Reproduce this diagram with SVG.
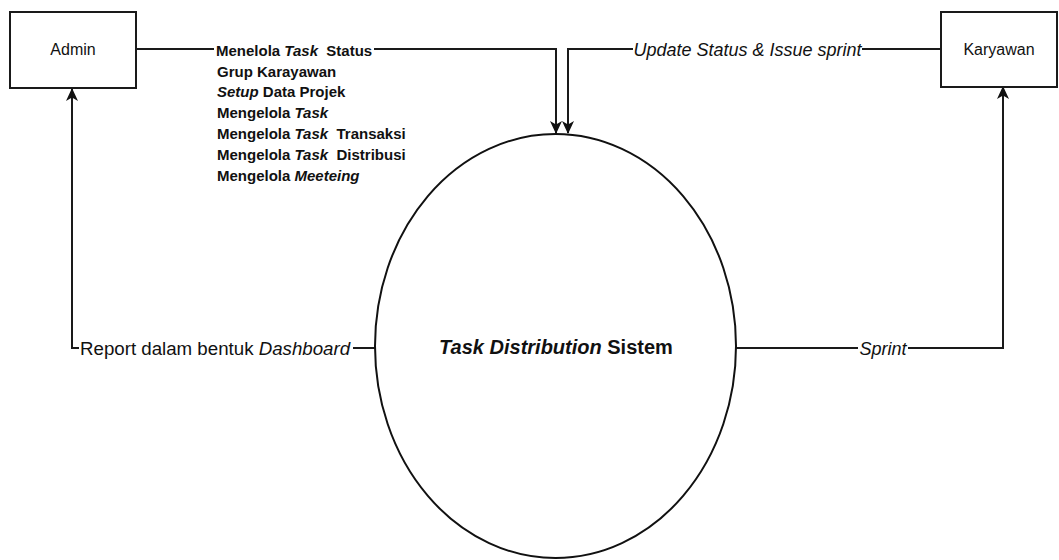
<svg xmlns="http://www.w3.org/2000/svg" width="1059" height="560" viewBox="0 0 1059 560">
  <style>
    .box { fill: #ffffff; stroke: #1a1a1a; stroke-width: 2; }
    .proc { fill: #ffffff; stroke: #111111; stroke-width: 2; }
    .edge { fill: none; stroke: #1a1a1a; stroke-width: 2; }
    .ent { font-family: "Liberation Sans", Arial, sans-serif; font-size: 16px; fill: #111; text-anchor: middle; }
    .lbl { font-family: "Liberation Sans", Arial, sans-serif; font-size: 18px; fill: #111; }
    .list { font-family: "Liberation Sans", Arial, sans-serif; font-size: 15px; font-weight: bold; fill: #111; }
    .title { font-family: "Liberation Sans", Arial, sans-serif; font-size: 20px; font-weight: bold; fill: #111; text-anchor: middle; }
    .it { font-style: italic; }
  </style>
  <defs>
    <marker id="arrow" viewBox="0 0 13 12" refX="12" refY="6" markerWidth="13" markerHeight="12" markerUnits="userSpaceOnUse" orient="auto">
      <path d="M0,0 L13,6 L0,12 L3.5,6 Z" fill="#111"/>
    </marker>
  </defs>
  <rect width="1059" height="560" fill="#ffffff"/>

  <!-- data flows -->
  <g id="connectors">
    <!-- Admin -> system -->
    <path class="edge" d="M136,49 H214"/>
    <path class="edge" d="M374,49 H556 V133" marker-end="url(#arrow)"/>
    <!-- Karyawan -> system -->
    <path class="edge" d="M941,49 H862"/>
    <path class="edge" d="M633,49 H568 V133" marker-end="url(#arrow)"/>
    <!-- system -> Admin -->
    <path class="edge" d="M375,348 H353"/>
    <path class="edge" d="M79,348 H72 V89" marker-end="url(#arrow)"/>
    <!-- system -> Karyawan -->
    <path class="edge" d="M736,348 H858"/>
    <path class="edge" d="M908,348 H1003 V87" marker-end="url(#arrow)"/>

    <g id="flow-labels">
      <text class="list" xml:space="preserve"><tspan x="216" y="55.5">Menelola <tspan class="it">Task</tspan>  Status</tspan></text>
      <text class="list" x="217" y="76.5">Grup Karayawan</text>
      <text class="list" x="217" y="97"><tspan class="it">Setup</tspan> Data Projek</text>
      <text class="list" x="217" y="118">Mengelola <tspan class="it">Task</tspan></text>
      <text class="list" xml:space="preserve" x="217" y="138.5">Mengelola <tspan class="it">Task</tspan>  Transaksi</text>
      <text class="list" xml:space="preserve" x="217" y="159.5">Mengelola <tspan class="it">Task</tspan>  Distribusi</text>
      <text class="list" x="217" y="180.5">Mengelola <tspan class="it">Meeteing</tspan></text>

      <text class="lbl it" x="747.5" y="55.5" text-anchor="middle">Update Status &amp; Issue sprint</text>
      <text class="lbl" x="80" y="354.5" style="font-size:18.7px">Report dalam bentuk <tspan class="it">Dashboard</tspan></text>
      <text class="lbl it" x="883" y="354.5" text-anchor="middle">Sprint</text>
    </g>
  </g>

  <g id="admin">
    <rect class="box" x="10" y="12" width="126" height="76"/>
    <text class="ent" x="73" y="55">Admin</text>
  </g>

  <g id="karyawan">
    <rect class="box" x="941" y="12" width="116" height="75"/>
    <text class="ent" x="999" y="55">Karyawan</text>
  </g>

  <g id="system">
    <ellipse class="proc" cx="555.5" cy="346" rx="180.5" ry="212"/>
    <text class="title" x="556" y="354"><tspan class="it">Task Distribution</tspan> Sistem</text>
  </g>
</svg>
